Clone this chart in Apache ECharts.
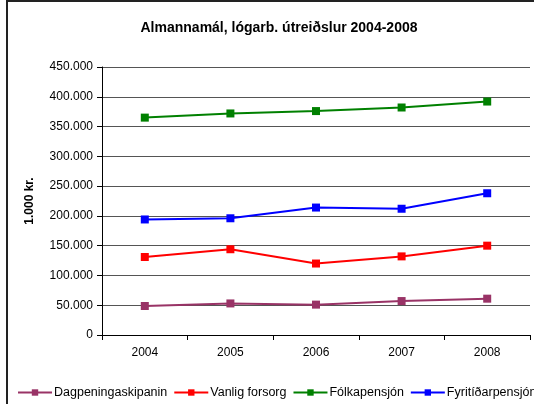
<!DOCTYPE html>
<html>
<head>
<meta charset="utf-8">
<script src="https://cdn.jsdelivr.net/npm/echarts@6/dist/echarts.min.js"></script>
<style>
html, body { margin: 0; padding: 0; background: #fff; }
#chart { width: 534px; height: 404px; }
</style>
</head>
<body>
<div id="chart"></div>
<script>
// gögn
const years = ['2004', '2005', '2006', '2007', '2008'];
const dagpeningaskipanin = [48700, 53000, 51000, 57000, 61000];
const vanligForsorg = [131000, 144000, 120000, 132000, 150000];
const folkapensjon = [365000, 372000, 376000, 382000, 392000];
const fyritidarpensjon = [194000, 196000, 214000, 212000, 238000];

const chart = echarts.init(document.getElementById('chart'));

function fmt(v) {
	return String(v).replace(/\B(?=(\d{3})+(?!\d))/g, '.');
}

function line(name, color, data) {
	return {
		name: name,
		type: 'line',
		data: data,
		symbol: 'rect',
		symbolSize: 8,
		lineStyle: { color: color, width: 2 },
		itemStyle: { color: color },
		animation: false
	};
}

let option = {
	backgroundColor: '#fff',
	textStyle: { fontFamily: 'Liberation Sans, Arial, sans-serif' },
	graphic: [{
		type: 'rect',
		shape: { x: 7, y: 1, width: 600, height: 500 },
		style: { fill: 'none', stroke: '#222', lineWidth: 2 },
		silent: true
	}],
	title: {
		text: 'Almannamál, lógarb. útreiðslur 2004-2008',
		left: 274,
		textAlign: 'center',
		top: 16,
		textStyle: { fontSize: 14, fontWeight: 'bold', color: '#000' }
	},
	legend: {
		left: 12,
		top: 381,
		width: 800,
		itemWidth: 34,
		itemHeight: 8,
		itemGap: 6,
		textStyle: { fontSize: 12.5, color: '#000', padding: [0, 0, 0, -3] },
		data: ['Dagpeningaskipanin', 'Vanlig forsorg', 'Fólkapensjón', 'Fyritíðarpensjón']
	},
	grid: { left: 102, right: 4, top: 67, bottom: 69 },
	xAxis: {
		type: 'category',
		data: years,
		boundaryGap: true,
		axisLine: { lineStyle: { color: '#000', width: 1 } },
		axisTick: { show: true, length: 5, lineStyle: { color: '#000' } },
		axisLabel: { color: '#000', fontSize: 12, margin: 12 }
	},
	yAxis: {
		type: 'value',
		min: 0,
		max: 450000,
		interval: 50000,
		name: '1.000 kr.',
		nameLocation: 'middle',
		nameGap: 66,
		nameTextStyle: { fontSize: 12, fontWeight: 'bold', color: '#000' },
		axisLine: { show: true, lineStyle: { color: '#000' } },
		axisTick: { show: true, length: 5, lineStyle: { color: '#000' } },
		axisLabel: { color: '#000', fontSize: 12, margin: 9, formatter: fmt },
		splitLine: { lineStyle: { color: '#555', width: 1 } }
	},
	series: [
		line('Dagpeningaskipanin', '#993366', dagpeningaskipanin),
		line('Vanlig forsorg', '#ff0000', vanligForsorg),
		line('Fólkapensjón', '#008000', folkapensjon),
		line('Fyritíðarpensjón', '#0000ff', fyritidarpensjon)
	]
};
chart.setOption(option);
</script>
</body>
</html>
